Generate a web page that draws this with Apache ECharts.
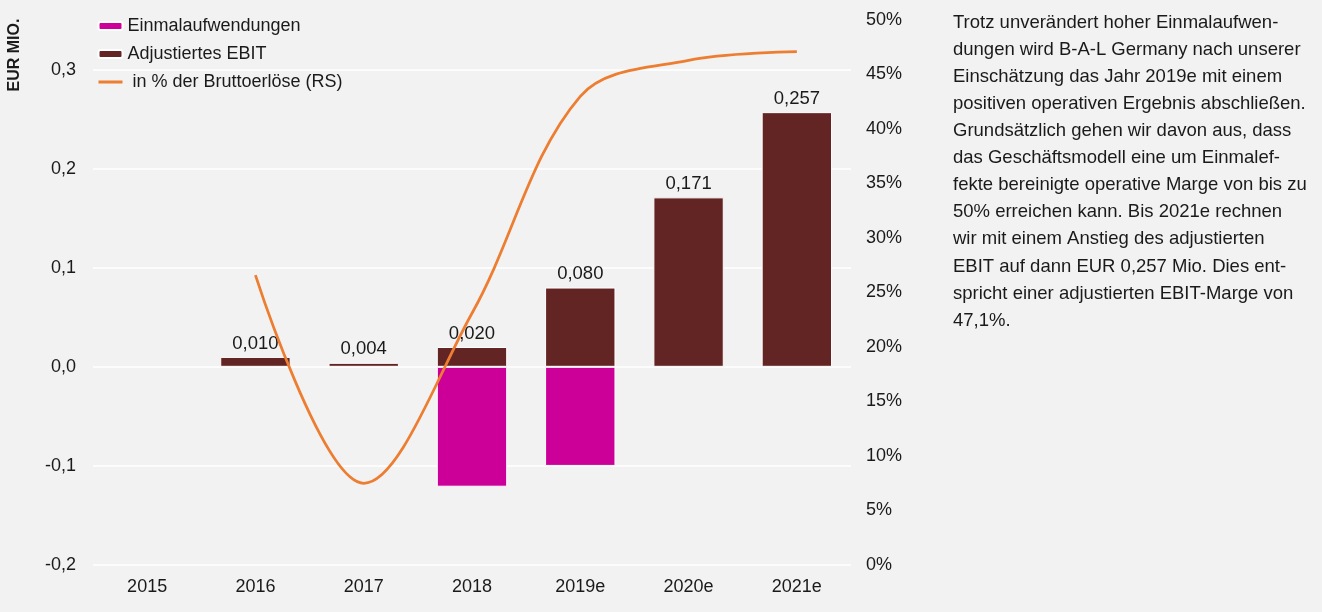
<!DOCTYPE html>
<html>
<head>
<meta charset="utf-8">
<title>Adjustiertes EBIT</title>
<script src="https://cdn.jsdelivr.net/npm/echarts@6/dist/echarts.min.js"></script>
<style>
  html, body { margin: 0; padding: 0; background: #f2f2f2; }
  #chart { width: 1322px; height: 612px; }
</style>
</head>
<body>
<div id="chart"></div>
<script>
// Jahre (Kategorien)
var years = ['2015', '2016', '2017', '2018', '2019e', '2020e', '2021e'];

// Werte in EUR Mio.
var einmalaufwendungen = [null, null, null, -0.121, -0.100, null, null];
var adjEbit = [null, 0.010, 0.004, 0.020, 0.080, 0.171, 0.257];

// in % der Bruttoerlöse (rechte Skala)
var marge = [null, 26.6, 7.5, 23.1, 43.0, 46.3, 47.1];

var infoText = [
  'Trotz unverändert hoher Einmalaufwen-',
  'dungen wird B-A-L Germany nach unserer',
  'Einschätzung das Jahr 2019e mit einem',
  'positiven operativen Ergebnis abschließen.',
  'Grundsätzlich gehen wir davon aus, dass',
  'das Geschäftsmodell eine um Einmalef-',
  'fekte bereinigte operative Marge von bis zu',
  '50% erreichen kann. Bis 2021e rechnen',
  'wir mit einem Anstieg des adjustierten',
  'EBIT auf dann EUR 0,257 Mio. Dies ent-',
  'spricht einer adjustierten EBIT-Marge von',
  '47,1%.'
];

var font = 'Arial, "Liberation Sans", sans-serif';
var textColor = '#1a1a1a';

var myChart = echarts.init(document.getElementById('chart'));

myChart.setOption({
  backgroundColor: '#f2f2f2',
  animation: false,
  textStyle: { fontFamily: font, color: textColor },
  grid: { left: 93, right: 471, top: 20, bottom: 47 },
  legend: {
    orient: 'vertical',
    left: 97,
    top: 17,
    padding: 0,
    itemWidth: 24,
    itemHeight: 8,
    itemGap: 10,
    textStyle: { fontSize: 18, color: textColor, fontFamily: font },
    data: [
      'Einmalaufwendungen',
      'Adjustiertes EBIT',
      // nur die Linie im Legendensymbol, kein Punkt
      {
        name: ' in % der Bruttoerlöse (RS)',
        itemStyle: { opacity: 0 },
        lineStyle: { width: 3, color: '#ed7d31' }
      }
    ]
  },
  xAxis: {
    type: 'category',
    data: years,
    axisLine: { show: false, onZero: false },
    axisTick: { show: false },
    axisLabel: { fontSize: 18, color: textColor, margin: 13 }
  },
  yAxis: [
    {
      type: 'value',
      min: -0.2,
      max: 0.35,
      interval: 0.1,
      axisLine: { show: false },
      axisTick: { show: false },
      splitLine: { show: true, showMaxLine: false, lineStyle: { color: '#ffffff', width: 1.5 } },
      axisLabel: {
        fontSize: 18,
        color: textColor,
        margin: 17,
        showMaxLabel: false,
        formatter: function (v) {
          return v.toFixed(1).replace('.', ',');
        }
      }
    },
    {
      type: 'value',
      min: 0,
      max: 50,
      interval: 5,
      position: 'right',
      axisLine: { show: false },
      axisTick: { show: false },
      splitLine: { show: false },
      axisLabel: { fontSize: 18, color: textColor, margin: 15, formatter: '{value}%' }
    }
  ],
  series: [
    {
      name: 'Einmalaufwendungen',
      type: 'bar',
      stack: 'ebit',
      barWidth: '65%',
      itemStyle: { color: '#cc0099', borderColor: '#ffffff', borderWidth: 1 },
      data: einmalaufwendungen
    },
    {
      name: 'Adjustiertes EBIT',
      type: 'bar',
      stack: 'ebit',
      barWidth: '65%',
      itemStyle: { color: '#632523', borderColor: '#ffffff', borderWidth: 1 },
      label: {
        show: true,
        position: 'top',
        distance: 4,
        fontSize: 18.5,
        color: textColor,
        formatter: function (p) {
          return p.value.toFixed(3).replace('.', ',');
        }
      },
      data: adjEbit
    },
    {
      name: ' in % der Bruttoerlöse (RS)',
      type: 'line',
      yAxisIndex: 1,
      smooth: 0.35,
      symbol: 'none',
      z: 5,
      lineStyle: { color: '#ed7d31', width: 2.75 },
      itemStyle: { color: '#ed7d31' },
      data: marge
    }
  ],
  graphic: [
    {
      type: 'text',
      x: 15,
      y: 55,
      rotation: Math.PI / 2,
      style: {
        text: 'EUR MIO.',
        font: 'bold 16px ' + font,
        fill: textColor,
        align: 'center',
        verticalAlign: 'middle'
      }
    },
    {
      type: 'text',
      left: 953,
      top: 9,
      style: {
        text: infoText.join('\n'),
        font: '18.5px ' + font,
        lineHeight: 27.1,
        fill: textColor
      }
    }
  ]
});
</script>
</body>
</html>
